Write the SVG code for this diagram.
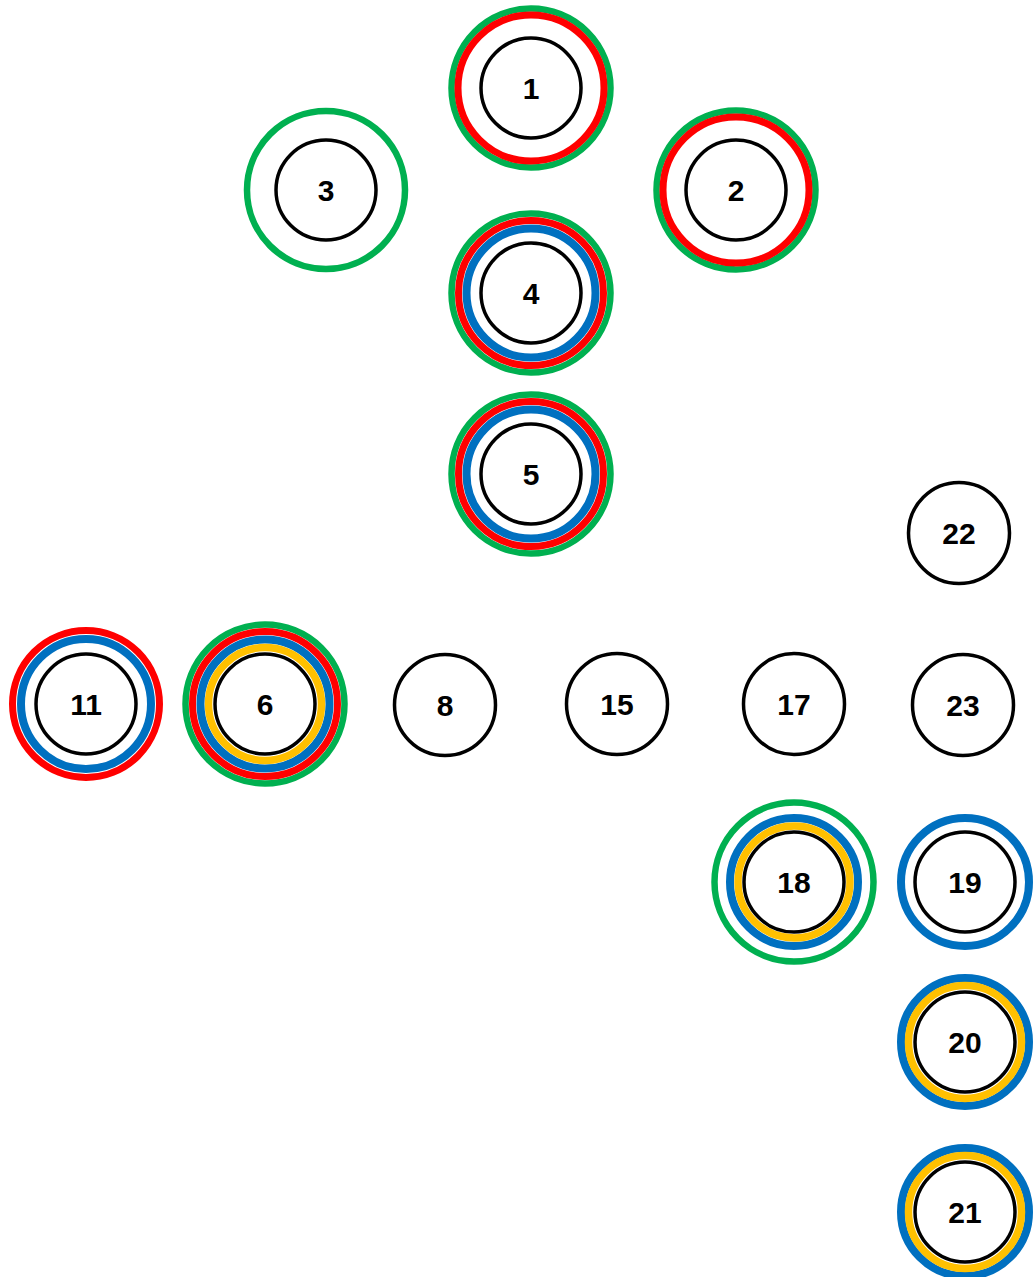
<svg xmlns="http://www.w3.org/2000/svg" width="1033" height="1277" viewBox="0 0 1033 1277">
<style>
.g{fill:none;stroke:#00B050;stroke-width:6.5}
.r{fill:none;stroke:#FF0000;stroke-width:7}
.b{fill:none;stroke:#0070C0;stroke-width:8}
.y{fill:none;stroke:#FFC000;stroke-width:7.5}
.k{fill:#fff;stroke:#000;stroke-width:3.5}
text{font-family:"Liberation Sans",Arial,sans-serif;font-weight:bold;font-size:30px;fill:#000;text-anchor:middle}
</style>
<rect width="1033" height="1277" fill="#fff"/>
<g id="connectors"/>
<g id="n1" transform="translate(531,88)"><circle class="g" r="79.5"/><circle class="r" r="73"/><circle class="k" r="50"/><text y="11">1</text></g>
<g id="n2" transform="translate(736,190)"><circle class="g" r="79.5"/><circle class="r" r="73"/><circle class="k" r="50"/><text y="11">2</text></g>
<g id="n3" transform="translate(326,190)"><circle class="g" r="79"/><circle class="k" r="50"/><text y="11">3</text></g>
<g id="n4" transform="translate(531,293)"><circle class="g" r="79.5"/><circle class="r" r="72.5"/><circle class="b" r="64.5"/><circle class="k" r="50"/><text y="11">4</text></g>
<g id="n5" transform="translate(531,474)"><circle class="g" r="79.5"/><circle class="r" r="72.5"/><circle class="b" r="64.5"/><circle class="k" r="50"/><text y="11">5</text></g>
<g id="n11" transform="translate(86,704)"><circle class="r" r="73.5"/><circle class="b" r="65"/><circle class="k" r="50"/><text y="11">11</text></g>
<g id="n6" transform="translate(265,704)"><circle class="g" r="79.5"/><circle class="r" r="72.5"/><circle class="b" r="64.5"/><circle class="y" r="56.5"/><circle class="k" r="50"/><text y="11">6</text></g>
<g id="n8" transform="translate(445,705)"><circle class="k" r="50.5"/><text y="11">8</text></g>
<g id="n15" transform="translate(617,704)"><circle class="k" r="50.5"/><text y="11">15</text></g>
<g id="n17" transform="translate(794,704)"><circle class="k" r="50.5"/><text y="11">17</text></g>
<g id="n22" transform="translate(959,533)"><circle class="k" r="50.5"/><text y="11">22</text></g>
<g id="n23" transform="translate(963,705)"><circle class="k" r="50.5"/><text y="11">23</text></g>
<g id="n18" transform="translate(794,882)"><circle class="g" r="79.5"/><circle class="b" r="64"/><circle class="y" r="56"/><circle class="k" r="50"/><text y="11">18</text></g>
<g id="n19" transform="translate(965,882)"><circle class="b" r="64"/><circle class="k" r="50"/><text y="11">19</text></g>
<g id="n20" transform="translate(965,1042)"><circle class="b" r="64"/><circle class="y" r="56.5"/><circle class="k" r="50"/><text y="11">20</text></g>
<g id="n21" transform="translate(965,1212)"><circle class="b" r="64"/><circle class="y" r="56.5"/><circle class="k" r="50"/><text y="11">21</text></g>
</svg>
